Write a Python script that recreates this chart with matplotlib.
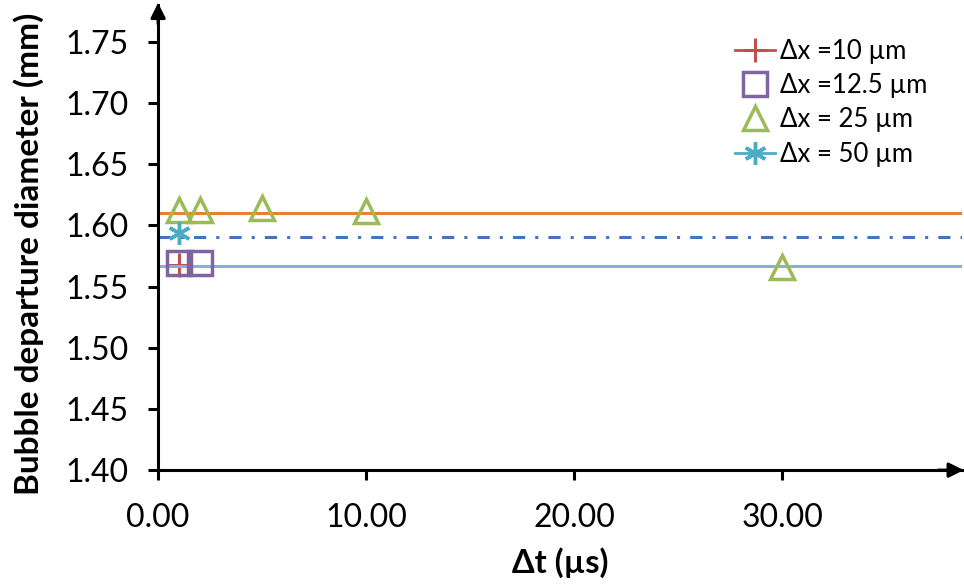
import matplotlib
matplotlib.use('Agg')
import matplotlib.pyplot as plt

plt.rcParams['font.family'] = ['Lato', 'DejaVu Sans']

# Datos
dt_10 = [1]
d_10 = [1.568]
dt_125 = [1, 2]
d_125 = [1.569, 1.569]
dt_25 = [1, 2, 5, 10, 30]
d_25 = [1.613, 1.613, 1.614, 1.612, 1.566]
dt_50 = [1]
d_50 = [1.594]

# Lineas de referencia horizontales
ref_orange = 1.610
ref_dashdot = 1.5905
ref_light = 1.5665

x_ticks = [0, 10, 20, 30]
y_ticks = [1.40, 1.45, 1.50, 1.55, 1.60, 1.65, 1.70, 1.75]

fig = plt.figure(figsize=(9.64, 5.84), dpi=100)
ax = fig.add_axes([0.164, 0.195, 0.834, 0.796])

ax.axhline(ref_orange, color='#ED7D31', lw=2.2, zorder=2)
ax.axhline(ref_dashdot, color='#4472C4', lw=2.2, ls=(0, (4, 3.3, 1, 3.3)), zorder=2)
ax.axhline(ref_light, color='#8FAADC', lw=2.2, zorder=2)

ax.plot(dt_10, d_10, color='#C0504D', marker='+', ms=17, mew=2.2, lw=2,
        label='Δx =10 µm', zorder=1)
ax.plot(dt_125, d_125, ls='none', marker='s', ms=17, mfc='none',
        mec='#8064A2', mew=2.5, label='Δx =12.5 µm', zorder=4)
ax.plot(dt_25, d_25, ls='none', marker='^', ms=17, mfc='none',
        mec='#9BBB59', mew=2.5, label='Δx = 25 µm', zorder=4)
ax.plot(dt_50, d_50, color='#4BACC6', marker=(6, 2, 0), ms=16, mew=2.5, lw=2,
        label='Δx = 50 µm', zorder=4)

ax.set_xlim(0, 38.65)
ax.set_ylim(1.40, 1.78)
ax.set_xticks(x_ticks)
ax.set_xticklabels([f'{v:.2f}' for v in x_ticks])
ax.set_yticks(y_ticks)
ax.set_yticklabels([f'{v:.2f}' for v in y_ticks])
ax.tick_params(labelsize=23, width=2.2, length=7, direction='out')
ax.tick_params(axis='x', pad=17)
ax.tick_params(axis='y', pad=14)

for s in ['top', 'right']:
    ax.spines[s].set_visible(False)
for s in ['left', 'bottom']:
    ax.spines[s].set_linewidth(2.2)

# Flechas al final de los ejes
ax.annotate('', xy=(1.002, 0), xytext=(0.97, 0), xycoords='axes fraction',
            arrowprops=dict(arrowstyle='-|>', color='black', lw=2.2,
                            mutation_scale=22, shrinkA=0, shrinkB=0))
ax.annotate('', xy=(0, 1.005), xytext=(0, 0.96), xycoords='axes fraction',
            arrowprops=dict(arrowstyle='-|>', color='black', lw=2.2,
                            mutation_scale=22, shrinkA=0, shrinkB=0))

ax.set_xlabel('Δt (µs)', fontsize=23.5, fontweight='bold')
ax.set_ylabel('Bubble departure diameter (mm)', fontsize=24, fontweight='bold')
ax.xaxis.set_label_coords(0.5, -0.165)
ax.yaxis.set_label_coords(-0.142, 0.4645)

ax.legend(loc='upper right', bbox_to_anchor=(0.97, 0.95), frameon=False,
          fontsize=18.5, handlelength=1.55, handletextpad=0.2, labelspacing=0.36,
          borderaxespad=0)

fig.savefig('out.png', dpi=100)
